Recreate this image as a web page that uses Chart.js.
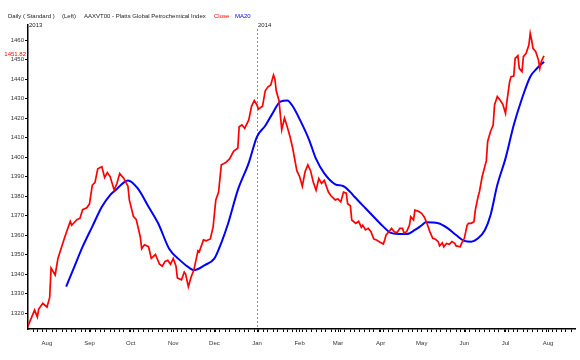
<!DOCTYPE html>
<html lang="en">
<head>
<meta charset="UTF-8">
<title>AAXVT00 - Platts Global Petrochemical Index</title>
<script src="https://cdn.jsdelivr.net/npm/chart.js@4"></script>
<style>
    html, body { margin: 0; padding: 0; background: #fff; }
    #chart { display: block; }
</style>
</head>
<body>
<canvas id="chart" width="580" height="360"></canvas>
<script>
// Close prices
const closeDates = [
    '2013-07-18','2013-07-23','2013-07-25','2013-07-26','2013-07-29','2013-08-01','2013-08-03','2013-08-04','2013-08-07','2013-08-09',
    '2013-08-14','2013-08-15','2013-08-18','2013-08-19','2013-08-23','2013-08-25','2013-08-27','2013-08-30','2013-09-01','2013-09-03',
    '2013-09-05','2013-09-07','2013-09-10','2013-09-12','2013-09-14','2013-09-16','2013-09-19','2013-09-21','2013-09-23','2013-09-26',
    '2013-09-29','2013-09-30','2013-10-03','2013-10-05','2013-10-08','2013-10-09','2013-10-11','2013-10-14','2013-10-16','2013-10-19',
    '2013-10-22','2013-10-24','2013-10-26','2013-10-28','2013-10-30','2013-11-01','2013-11-03','2013-11-04','2013-11-07','2013-11-09',
    '2013-11-10','2013-11-12','2013-11-14','2013-11-16','2013-11-19','2013-11-20','2013-11-23','2013-11-25','2013-11-28','2013-11-30',
    '2013-12-02','2013-12-04','2013-12-06','2013-12-09','2013-12-12','2013-12-15','2013-12-18','2013-12-19','2013-12-21','2013-12-23',
    '2013-12-26','2013-12-28','2013-12-30','2014-01-01','2014-01-02','2014-01-05','2014-01-07','2014-01-09','2014-01-11','2014-01-13',
    '2014-01-14','2014-01-15','2014-01-17','2014-01-19','2014-01-21','2014-01-23','2014-01-25','2014-01-27','2014-01-30','2014-02-01',
    '2014-02-03','2014-02-05','2014-02-07','2014-02-09','2014-02-11','2014-02-13','2014-02-15','2014-02-17','2014-02-19','2014-02-22',
    '2014-02-24','2014-02-27','2014-03-01','2014-03-03','2014-03-05','2014-03-07','2014-03-08','2014-03-10','2014-03-11','2014-03-14',
    '2014-03-16','2014-03-18','2014-03-19','2014-03-21','2014-03-23','2014-03-25','2014-03-27','2014-03-29','2014-03-31','2014-04-03',
    '2014-04-04','2014-04-05','2014-04-07','2014-04-09','2014-04-11','2014-04-13','2014-04-15','2014-04-17','2014-04-18','2014-04-20',
    '2014-04-22','2014-04-23','2014-04-25','2014-04-26','2014-04-29','2014-05-01','2014-05-03','2014-05-05','2014-05-07','2014-05-09',
    '2014-05-11','2014-05-13','2014-05-14','2014-05-16','2014-05-17','2014-05-19','2014-05-21','2014-05-23','2014-05-25','2014-05-26',
    '2014-05-29','2014-05-30','2014-06-01','2014-06-03','2014-06-04','2014-06-06','2014-06-08','2014-06-09','2014-06-11','2014-06-12',
    '2014-06-14','2014-06-17','2014-06-18','2014-06-20','2014-06-22','2014-06-23','2014-06-25','2014-06-27','2014-06-29','2014-07-01',
    '2014-07-02','2014-07-04','2014-07-05','2014-07-07','2014-07-08','2014-07-10','2014-07-11','2014-07-13','2014-07-14','2014-07-16',
    '2014-07-18','2014-07-19','2014-07-20','2014-07-21','2014-07-23','2014-07-25','2014-07-26','2014-07-27','2014-07-28','2014-07-29'
];
const closeValues = [
    1313, 1321.5, 1318, 1322, 1325, 1323, 1328, 1343, 1339.5, 1348,
    1359, 1361, 1367, 1365, 1368, 1368.5, 1373, 1374, 1376, 1385.5,
    1387, 1394, 1395, 1389.5, 1392, 1390, 1383, 1386.5, 1391.5, 1389,
    1385, 1378, 1369.5, 1368, 1359, 1353, 1355, 1354, 1348, 1350,
    1345, 1344, 1346.5, 1347, 1345, 1348, 1344, 1338, 1337, 1341,
    1340, 1333.5, 1338.5, 1342, 1352, 1351.5, 1357.5, 1357, 1358, 1364,
    1378, 1382, 1396, 1397, 1399, 1403, 1404.5, 1415.5, 1416.5, 1414.7,
    1419, 1426, 1429, 1426.7, 1424.5, 1426, 1434, 1436, 1437, 1442,
    1440, 1434, 1429, 1414, 1420, 1415.5, 1410.5, 1404.5, 1393, 1390,
    1385, 1392.5, 1396, 1393, 1387, 1383, 1389, 1386.5, 1388, 1382,
    1380, 1378, 1378.5, 1377, 1382, 1381.5, 1376, 1375, 1367.7, 1366,
    1367, 1364, 1365, 1362.6, 1363.4, 1361.7, 1358, 1357.4, 1356.6, 1355.4,
    1357.4, 1360, 1361.7, 1363.4, 1361.7, 1361.2, 1363.4, 1363.4, 1361, 1361.7,
    1365, 1369.4, 1367.7, 1372.8, 1372, 1371, 1369, 1365.5, 1361.5, 1358.3,
    1357.8, 1356.6, 1354.4, 1356, 1354, 1355.7, 1355.2, 1356.6, 1355.7, 1354.4,
    1354, 1355.7, 1358.3, 1365, 1366, 1366, 1366.8, 1372.8, 1379.6, 1382.2,
    1390, 1398, 1408, 1413, 1416.4, 1426.7, 1431, 1429.2, 1427, 1422.4,
    1428.4, 1438.6, 1441.2, 1441.5, 1450.6, 1452, 1445.5, 1443.8, 1451.5, 1453.2,
    1457.4, 1463.4, 1460, 1455.7, 1454, 1449.7, 1445.5, 1448.9, 1450.5, 1451.82
];

// 20-day moving average
const maDates = [
    '2013-08-15','2013-08-21','2013-08-27','2013-09-03','2013-09-10','2013-09-16','2013-09-20','2013-09-29','2013-10-06','2013-10-14',
    '2013-10-21','2013-10-29','2013-11-06','2013-11-13','2013-11-16','2013-11-24','2013-12-01','2013-12-06','2013-12-11','2013-12-18',
    '2013-12-26','2014-01-01','2014-01-07','2014-01-12','2014-01-18','2014-01-23','2014-01-27','2014-02-02','2014-02-08','2014-02-13',
    '2014-02-19','2014-02-27','2014-03-05','2014-03-10','2014-03-13','2014-03-21','2014-03-28','2014-04-03','2014-04-08','2014-04-14',
    '2014-04-20','2014-04-26','2014-05-01','2014-05-04','2014-05-13','2014-05-20','2014-05-26','2014-06-01','2014-06-06','2014-06-11',
    '2014-06-16','2014-06-20','2014-06-25','2014-07-01','2014-07-07','2014-07-13','2014-07-19','2014-07-24','2014-07-29'
];
const maValues = [
    1333.5, 1343.8, 1354, 1364.3, 1374.5, 1380.5, 1383, 1388, 1384, 1374.5,
    1366, 1353, 1347, 1343, 1342, 1344.6, 1348, 1356, 1366, 1383,
    1397, 1410.5, 1416, 1422, 1428.4, 1429, 1426, 1418, 1408.7, 1399,
    1391.6, 1386, 1385, 1382, 1379.6, 1373.7, 1368.6, 1364.3, 1361.2, 1360.5,
    1360.5, 1362.6, 1365, 1366.5, 1366, 1363.4, 1360, 1357, 1356.6, 1358.3,
    1362.6, 1370, 1385.6, 1399.3, 1416.4, 1430, 1441.2, 1445.5, 1448.9
];

const monthStarts = ['2013-08-01','2013-09-01','2013-10-01','2013-11-01','2013-12-01','2014-01-01',
                     '2014-02-01','2014-03-01','2014-04-01','2014-05-01','2014-06-01','2014-07-01','2014-08-01'];
const monthLabels = ['Aug','Sep','Oct','Nov','Dec','Jan','Feb','Mar','Apr','May','Jun','Jul','Aug'];
const yTicks = [1320, 1330, 1340, 1350, 1360, 1370, 1380, 1390, 1400, 1410, 1420, 1430, 1440, 1450, 1460];
const yearStarts = ['2013-07-01', '2014-01-01'];
const yearLabels = ['2013', '2014'];
const lastClose = 1451.82;

// days counted from 1 Jul 2013
const ORIGIN = Date.parse('2013-07-01');
const dayNum = s => (Date.parse(s) - ORIGIN) / 86400000;

const FONT = '"Liberation Sans", Arial, sans-serif';

const closeData = closeDates.map((d, i) => ({x: dayNum(d), y: closeValues[i]}));
const maData = maDates.map((d, i) => ({x: dayNum(d), y: maValues[i]}));

const monthDays = monthStarts.map(dayNum);
const X_MIN = 17.2, X_MAX = 415.6;

// small ticks on Mondays and Thursdays, plus month starts
function buildXTicks() {
    const ticks = [];
    for (let d = Math.ceil(X_MIN); d <= X_MAX; d++) {
        const wd = new Date(ORIGIN + d * 86400000).getUTCDay();
        if (monthDays.includes(d) || wd === 1 || wd === 4) ticks.push({value: d});
    }
    return ticks;
}

const overlay = {
    id: 'overlay',
    beforeDatasetsDraw(chart) {
        const {ctx, chartArea, scales} = chart;
        ctx.save();
        // year divider
        yearStarts.forEach(s => {
            const px = scales.x.getPixelForValue(dayNum(s));
            if (px <= chartArea.left) return;
            ctx.strokeStyle = '#8a8a8a';
            ctx.lineWidth = 1;
            ctx.setLineDash([2, 2]);
            ctx.beginPath();
            ctx.moveTo(Math.round(px) + 0.5, chartArea.top + 4);
            ctx.lineTo(Math.round(px) + 0.5, chartArea.bottom);
            ctx.stroke();
        });
        ctx.restore();
    },
    afterDraw(chart) {
        const {ctx, chartArea, scales} = chart;
        ctx.save();
        ctx.font = '6px ' + FONT;
        ctx.textBaseline = 'middle';
        // header line
        const parts = [
            ['Daily ( Standard )', '#222', 8],
            ['(Left)', '#222', 62],
            ['AAXVT00 - Platts Global Petrochemical Index', '#222', 84],
            ['Close', '#ff0000', 214],
            ['MA20', '#0000ff', 235]
        ];
        parts.forEach(([t, c, x]) => {
            ctx.fillStyle = c;
            ctx.fillText(t, x, 16);
        });
        // year labels
        ctx.fillStyle = '#222';
        yearStarts.forEach((s, i) => {
            const px = Math.max(chartArea.left, scales.x.getPixelForValue(dayNum(s)));
            ctx.fillText(yearLabels[i], px + 1, 25);
        });
        // last value tag
        ctx.fillStyle = '#ff0000';
        ctx.textAlign = 'right';
        ctx.fillText(lastClose.toFixed(2), chartArea.left - 2, scales.y.getPixelForValue(lastClose) - 2);
        ctx.restore();
    }
};

new Chart(document.getElementById('chart'), {
    type: 'line',
    data: {
        datasets: [
            {
                label: 'Close',
                data: closeData,
                borderColor: '#ff0000',
                borderWidth: 1.7,
                pointRadius: 0,
                tension: 0
            },
            {
                label: 'MA20',
                data: maData,
                borderColor: '#0000ff',
                borderWidth: 2,
                pointRadius: 0,
                cubicInterpolationMode: 'monotone'
            }
        ]
    },
    options: {
        responsive: false,
        animation: false,
        layout: { padding: { left: 0, right: 5, top: 25, bottom: 0 } },
        plugins: {
            legend: { display: false },
            tooltip: { enabled: false }
        },
        scales: {
            x: {
                type: 'linear',
                min: X_MIN,
                max: X_MAX,
                afterBuildTicks: scale => { scale.ticks = buildXTicks(); },
                afterFit: scale => { scale.height = 31; },
                grid: { drawOnChartArea: false, tickLength: 3, color: '#000' },
                border: { color: '#000', width: 1.5 },
                ticks: {
                    autoSkip: false,
                    maxRotation: 0,
                    padding: 8,
                    color: '#333',
                    font: { family: FONT, size: 6 },
                    callback: v => {
                        const i = monthDays.indexOf(v);
                        return i >= 0 ? monthLabels[i] : '';
                    }
                }
            },
            y: {
                min: 1311.8,
                max: 1467.7,
                afterBuildTicks: scale => { scale.ticks = yTicks.map(v => ({value: v})); },
                afterFit: scale => { scale.width = 28; },
                grid: { drawOnChartArea: false, tickLength: 3, color: '#000' },
                border: { color: '#000', width: 1.5 },
                ticks: {
                    padding: 1,
                    color: '#333',
                    font: { family: FONT, size: 6 },
                    callback: v => String(v)
                }
            }
        }
    },
    plugins: [overlay]
});
</script>
</body>
</html>
